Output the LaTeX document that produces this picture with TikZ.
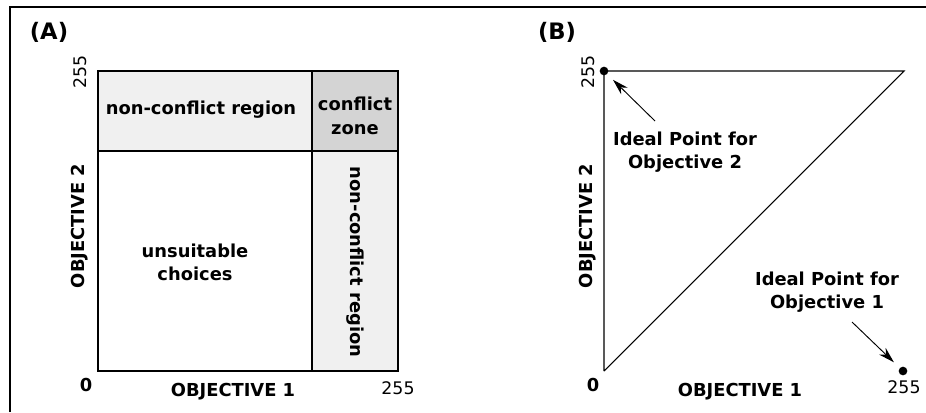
\documentclass[tikz,border=0pt]{standalone}
\usepackage{fontspec}
\setmainfont{DejaVu Sans}
\usetikzlibrary{arrows.meta}
\begin{document}
\begin{tikzpicture}[x=0.75pt,y=-0.75pt]
    \tikzstyle{lbl} = [font=\fontsize{13.4}{17.5}\selectfont\bfseries, align=center, inner sep=0pt]
    \tikzstyle{num} = [font=\fontsize{13}{15}\selectfont, inner sep=0pt]
    \tikzstyle{tag} = [font=\fontsize{17}{19}\selectfont\bfseries, inner sep=0pt]
    \tikzstyle{dot} = [circle, fill=black, inner sep=0pt, minimum size=6.5pt]
    \tikzstyle{pointer} = [-{Stealth[length=12pt,width=7pt]}, line width=0.7pt]
    \useasboundingbox (0,0) rectangle (926,412);
    % frame
    \draw[line width=1.5pt] (10,412) -- (10,7) -- (926,7);
    % panel A
    \node[tag] (tagA) at (49,32) {(A)};
    \fill[black!6] (98,71) rectangle (398,151);
    \fill[black!6] (312,151) rectangle (398,371);
    \fill[black!17] (312,71) rectangle (398,151);
    \draw[line width=1pt] (98,71) rectangle (398,371);
    \draw[line width=1pt] (98,151) -- (398,151);
    \draw[line width=1pt] (312,71) -- (312,371);
    \node[lbl] (topA) at (201,110) {non-conflict region};
    \node[lbl] (zoneA) at (355,116) {conflict\\zone};
    \node[lbl, rotate=-90] (sideA) at (355,262) {non-conflict region};
    \node[lbl] (badA) at (195,262) {unsuitable\\choices};
    \node[num, rotate=90] (ymaxA) at (80,72) {255};
    \node[lbl, rotate=90] (yaxA) at (80,226) {OBJECTIVE 2};
    \node[lbl] (zeroA) at (86,385) {0};
    \node[lbl] (xaxA) at (233,392) {OBJECTIVE 1};
    \node[num] (xmaxA) at (398,388) {255};
    % panel B
    \node[tag] (tagB) at (557,32) {(B)};
    \coordinate (orig) at (604,371);
    \coordinate (corner) at (904,71);
    \node[dot] (ideal2) at (604,71) {};
    \node[dot] (ideal1) at (903,371) {};
    \draw[line width=0.8pt] (orig) -- (ideal2.center) -- (corner) -- (orig);
    \node[num, rotate=90] (ymaxB) at (588,72) {255};
    \node[lbl, rotate=90] (yaxB) at (588,226) {OBJECTIVE 2};
    \node[lbl] (zeroB) at (593,385) {0};
    \node[lbl] (xaxB) at (740,392) {OBJECTIVE 1};
    \node[num] (xmaxB) at (904,387) {255};
    \node[lbl] (lbl2) at (685,152) {Ideal Point for\\Objective 2};
    \node[lbl] (lbl1) at (827,292) {Ideal Point for\\Objective 1};
    \coordinate (tail2) at (655,121);
    \coordinate (tail1) at (852,322);
    \draw[pointer, shorten >=6pt] (tail2) -- (ideal2);
    \draw[pointer, shorten >=6pt] (tail1) -- (ideal1);
\end{tikzpicture}
\end{document}
